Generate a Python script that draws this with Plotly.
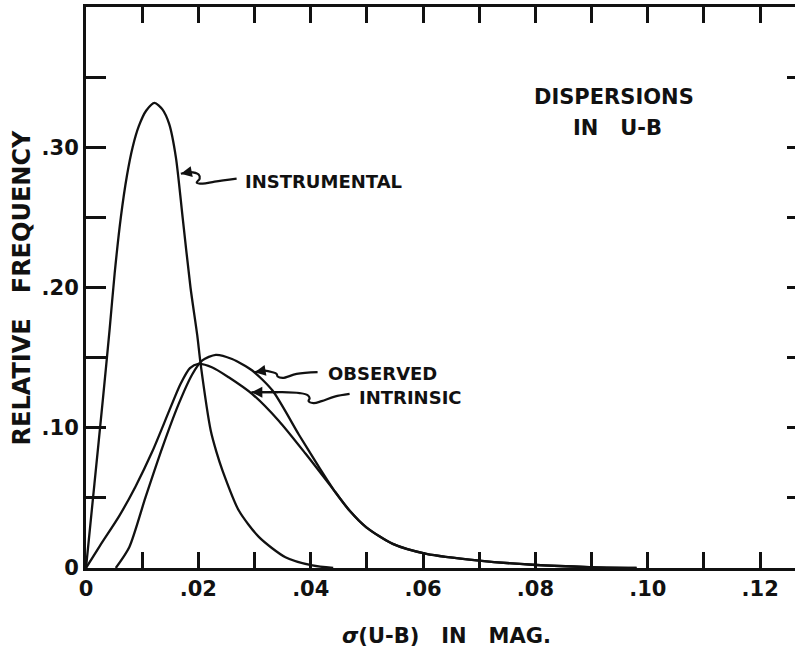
import plotly.graph_objects as go

# ---- data ----
instr_x = [0.0, 0.0015, 0.0030, 0.0042, 0.0051, 0.0062, 0.0073, 0.0083, 0.0094, 0.0107,
           0.0122, 0.0136, 0.0148, 0.0160, 0.0172, 0.0186, 0.0198, 0.0204, 0.0222, 0.0232,
           0.0243, 0.0272, 0.0308, 0.0355, 0.0403, 0.0440]
instr_y = [0.0, 0.060, 0.120, 0.170, 0.210, 0.250, 0.280, 0.300, 0.315, 0.326,
           0.3316, 0.327, 0.3166, 0.2928, 0.250, 0.200, 0.166, 0.1455, 0.098, 0.083,
           0.0695, 0.041, 0.022, 0.0077, 0.0018, 0.0]

obs_x = [0.0053, 0.0077, 0.0106, 0.0136, 0.0165, 0.0189, 0.0207, 0.0231, 0.0260, 0.0296,
         0.0332, 0.0379, 0.0415, 0.0444, 0.0469, 0.0499, 0.0546, 0.0606, 0.0700, 0.0795,
         0.0896, 0.0980]
obs_y = [0.0, 0.0148, 0.0505, 0.086, 0.117, 0.138, 0.148, 0.152, 0.149, 0.1408,
         0.1265, 0.095, 0.0718, 0.054, 0.041, 0.029, 0.0172, 0.0101, 0.0053, 0.0023,
         0.0006, 0.0]

intr_x = [0.0, 0.0025, 0.0059, 0.0088, 0.0118, 0.0148, 0.0168, 0.0185, 0.0200, 0.0225,
          0.0254, 0.0296, 0.0343, 0.0391, 0.0444, 0.0469, 0.0499, 0.0546, 0.0606, 0.0700,
          0.0795, 0.0896, 0.0980]
intr_y = [0.0, 0.016, 0.037, 0.058, 0.083, 0.112, 0.131, 0.1425, 0.1455, 0.143,
          0.136, 0.124, 0.105, 0.0814, 0.054, 0.041, 0.029, 0.0172, 0.0101, 0.0053,
          0.0023, 0.0006, 0.0]

x_tickvals = [0.00, 0.01, 0.02, 0.03, 0.04, 0.05, 0.06, 0.07, 0.08, 0.09, 0.10, 0.11, 0.12]
x_ticktext = ["0", "", ".02", "", ".04", "", ".06", "", ".08", "", ".10", "", ".12"]
y_tickvals = [0.0, 0.05, 0.10, 0.15, 0.20, 0.25, 0.30, 0.35]
y_ticktext = ["0", "", ".10", "", ".20", "", ".30", ""]

# label leader squiggles (data coordinates)
sq_instr_x = [0.01689, 0.01845, 0.02005, 0.02023, 0.0197, 0.02077, 0.0229, 0.02681]
sq_instr_y = [0.2811, 0.2823, 0.2805, 0.2776, 0.2748, 0.2740, 0.2755, 0.2776]
sq_obs_x = [0.03002, 0.03180, 0.03322, 0.03393, 0.03411, 0.03500, 0.03749, 0.04122]
sq_obs_y = [0.1396, 0.1408, 0.1396, 0.1384, 0.1365, 0.1355, 0.1384, 0.1396]
sq_int_x = [0.02943, 0.03446, 0.03802, 0.03944, 0.03980, 0.03962, 0.04051, 0.04194, 0.04425, 0.04692]
sq_int_y = [0.1253, 0.1254, 0.1247, 0.1233, 0.1211, 0.1190, 0.1176, 0.1190, 0.1222, 0.1241]

FONT = "DejaVu Sans"
INK = "#111111"

fig = go.Figure()
for xs, ys in [(instr_x, instr_y), (obs_x, obs_y), (intr_x, intr_y)]:
    fig.add_trace(go.Scatter(x=xs, y=ys, mode="lines",
                             line=dict(color=INK, width=2.3, shape="spline", smoothing=0.7),
                             showlegend=False, hoverinfo="skip"))
for xs, ys in [(sq_instr_x, sq_instr_y), (sq_obs_x, sq_obs_y), (sq_int_x, sq_int_y)]:
    fig.add_trace(go.Scatter(x=xs, y=ys, mode="lines",
                             line=dict(color=INK, width=2.2, shape="spline", smoothing=1.0),
                             showlegend=False, hoverinfo="skip"))
    # arrowhead at the curve end
    fig.add_annotation(x=xs[0], y=ys[0], ax=xs[1], ay=ys[1], axref="x", ayref="y",
                       xref="x", yref="y", text="", showarrow=True,
                       arrowhead=2, arrowsize=1.1, arrowwidth=2, arrowcolor=INK)

# dummy trace for right-side tick axis
fig.add_trace(go.Scatter(x=[None], y=[None], yaxis="y2", showlegend=False, hoverinfo="skip"))

lab_font = dict(family=FONT, size=18, color=INK, weight="bold")
fig.add_annotation(x=0.0279, y=0.2755, text="INSTRUMENTAL", xanchor="left", yanchor="middle",
                   showarrow=False, font=lab_font)
fig.add_annotation(x=0.0428, y=0.1388, text="OBSERVED", xanchor="left", yanchor="middle",
                   showarrow=False, font=lab_font)
fig.add_annotation(x=0.0483, y=0.1217, text="INTRINSIC", xanchor="left", yanchor="middle",
                   showarrow=False, font=lab_font)

big_font = dict(family=FONT, size=21, color=INK, weight="bold")
fig.add_annotation(x=0.745, y=0.8396, xref="paper", yref="paper", text="DISPERSIONS",
                   showarrow=False, font=big_font, xanchor="center", yanchor="middle")
fig.add_annotation(x=0.749, y=0.784, xref="paper", yref="paper",
                   text="IN\u00a0\u00a0\u00a0U-B",
                   showarrow=False, font=big_font, xanchor="center", yanchor="middle")

# axis titles
fig.add_annotation(x=0.508, y=-0.121, xref="paper", yref="paper",
                   text="<i>σ</i>(U-B)\u00a0\u00a0\u00a0IN\u00a0\u00a0\u00a0MAG.",
                   showarrow=False, font=dict(family=FONT, size=21, color=INK, weight="bold"),
                   xanchor="center", yanchor="middle")
fig.add_annotation(x=-0.0903, y=0.5, xref="paper", yref="paper",
                   text="RELATIVE\u00a0\u00a0\u00a0FREQUENCY", textangle=-90,
                   showarrow=False, font=dict(family=FONT, size=24, color=INK, weight="bold"),
                   xanchor="center", yanchor="middle")

tick_font = dict(family=FONT, size=21, color=INK, weight="bold")
fig.update_layout(
    width=795, height=650,
    margin=dict(l=86, r=0, t=7, b=82),
    paper_bgcolor="white", plot_bgcolor="white",
    xaxis=dict(range=[0, 0.1262], showgrid=False, zeroline=False,
               showline=True, linewidth=3, linecolor=INK, mirror="ticks",
               ticks="inside", ticklen=16, tickwidth=2.5, tickcolor=INK,
               tickvals=x_tickvals, ticktext=x_ticktext, tickfont=tick_font),
    yaxis=dict(range=[0, 0.40], showgrid=False, zeroline=False,
               showline=True, linewidth=3, linecolor=INK, mirror=False,
               ticks="inside", ticklen=20, tickwidth=2.5, tickcolor=INK,
               tickvals=y_tickvals, ticktext=y_ticktext, tickfont=tick_font),
    yaxis2=dict(range=[0, 0.40], overlaying="y", side="right", showgrid=False,
                zeroline=False, showline=False, ticks="inside", ticklen=8,
                tickwidth=2.5, tickcolor=INK, tickvals=y_tickvals,
                showticklabels=False),
)

fig.write_html("out.html")
